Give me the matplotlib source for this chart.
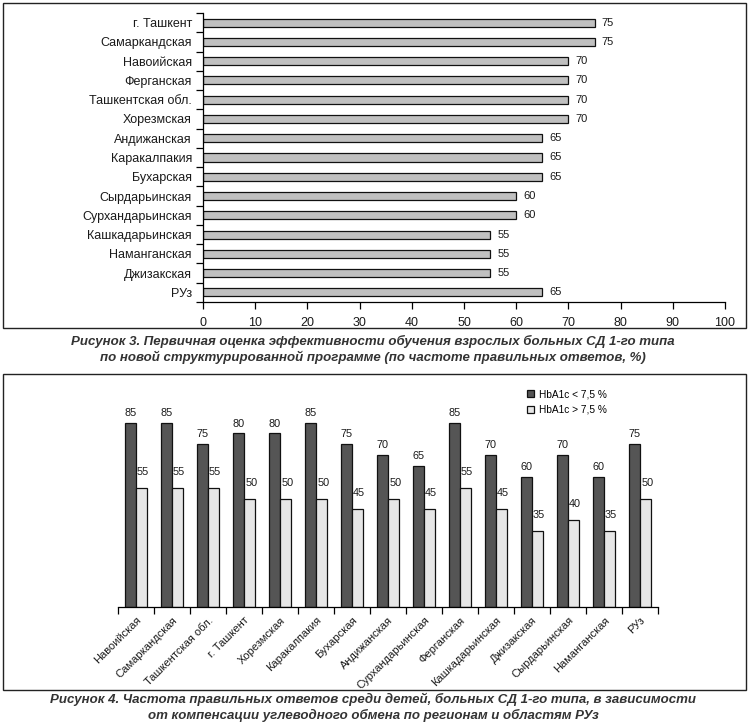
import numpy as np
import matplotlib
matplotlib.use("Agg")
import matplotlib.pyplot as plt
from matplotlib.patches import Rectangle

plt.rcParams['font.family'] = ['Liberation Sans', 'DejaVu Sans']

# ---- data: figure 3 (adults) ----
regions3 = ["г. Ташкент", "Самаркандская", "Навоийская", "Ферганская", "Ташкентская обл.",
            "Хорезмская", "Андижанская", "Каракалпакия", "Бухарская", "Сырдарьинская",
            "Сурхандарьинская", "Кашкадарьинская", "Наманганская", "Джизакская", "РУз"]
values3 = [75, 75, 70, 70, 70, 70, 65, 65, 65, 60, 60, 55, 55, 55, 65]
xticks3 = [0, 10, 20, 30, 40, 50, 60, 70, 80, 90, 100]

# ---- data: figure 4 (children) ----
regions4 = ["Навоийская", "Самаркандская", "Ташкентская обл.", "г. Ташкент", "Хорезмская",
            "Каракалпакия", "Бухарская", "Андижанская", "Сурхандарьинская", "Ферганская",
            "Кашкадарьинская", "Джизакская", "Сырдарьинская", "Наманганская", "РУз"]
hba_low = [85, 85, 75, 80, 80, 85, 75, 70, 65, 85, 70, 60, 70, 60, 75]
hba_high = [55, 55, 55, 50, 50, 50, 45, 50, 45, 55, 45, 35, 40, 35, 50]
series_names = ["HbA1c < 7,5 %", "HbA1c > 7,5 %"]

W, H = 751, 725
fig = plt.figure(figsize=(W/100, H/100), dpi=100, facecolor="white")

def px(x0, y0, x1, y1):
    # pixel box (top-left origin) -> figure fraction rect
    return [x0/W, 1 - y1/H, (x1-x0)/W, (y1-y0)/H]

# frames around both figures
for (x0, y0, x1, y1) in [(3, 3, 746, 328), (3, 374, 746, 690)]:
    fig.patches.append(Rectangle((x0/W, 1-y1/H), (x1-x0)/W, (y1-y0)/H,
                                 transform=fig.transFigure, fill=False,
                                 edgecolor="#222222", lw=1.0))

txt = "#1a1a1a"
cap = dict(ha="center", va="center", fontsize=9.5, fontweight="bold",
           fontstyle="italic", color="#333333")

# ---- figure 3: horizontal bars ----
ax1 = fig.add_axes(px(203, 13, 725, 302))
y = np.arange(len(regions3))
ax1.barh(y, values3, height=0.42, color="#c0c0c0", edgecolor="#111111", lw=0.9)
for yi, v in zip(y, values3):
    ax1.text(v + 1.4, yi, str(v), va="center", ha="left", fontsize=8, color=txt)
ax1.set_xlim(0, 100)
ax1.set_ylim(len(regions3) - 0.5, -0.5)
ax1.set_xticks(xticks3)
ax1.set_yticks(y)
ax1.set_yticklabels(regions3, fontsize=9, color=txt)
ax1.set_yticks(np.arange(-0.5, len(regions3)), minor=True)
ax1.tick_params(axis="y", which="major", length=0, pad=8)
ax1.tick_params(axis="y", which="minor", length=5, width=0.9, direction="out")
ax1.tick_params(axis="x", length=5, width=0.9, labelsize=9, labelcolor=txt, pad=6)
for s in ["top", "right"]:
    ax1.spines[s].set_visible(False)
for s in ["left", "bottom"]:
    ax1.spines[s].set_linewidth(0.9)

fig.text(373/W, 1 - 341/H,
         "Рисунок 3. Первичная оценка эффективности обучения взрослых больных СД 1-го типа", **cap)
fig.text(373/W, 1 - 357/H,
         "по новой структурированной программе (по частоте правильных ответов, %)", **cap)

# ---- figure 4: grouped vertical bars ----
ax2 = fig.add_axes(px(118, 390, 658, 607))
x = np.arange(len(regions4))
bw = 0.3
ax2.bar(x - bw/2, hba_low, width=bw, color="#555555", edgecolor="#111111", lw=0.9,
        label=series_names[0])
ax2.bar(x + bw/2, hba_high, width=bw, color="#e6e6e6", edgecolor="#111111", lw=0.9,
        label=series_names[1])
for xi, v in zip(x, hba_low):
    ax2.text(xi - bw/2, v + 2.2, str(v), ha="center", va="bottom", fontsize=7.8, color=txt)
for xi, v in zip(x, hba_high):
    ax2.text(xi + bw/2 + 0.05, v + 5, str(v), ha="center", va="bottom", fontsize=7.8, color=txt)
ax2.set_xlim(-0.5, len(regions4) - 0.5)
ax2.set_ylim(0, 100)
ax2.set_yticks([])
ax2.set_xticks(x)
ax2.set_xticklabels(regions4, rotation=45, ha="right", rotation_mode="anchor",
                    fontsize=8, color=txt)
ax2.set_xticks(np.arange(-0.5, len(regions4)), minor=True)
ax2.tick_params(axis="x", which="major", length=0, pad=6)
ax2.tick_params(axis="x", which="minor", length=5, width=0.9, direction="out")
for s in ["top", "right", "left"]:
    ax2.spines[s].set_visible(False)
ax2.spines["bottom"].set_linewidth(0.9)
ax2.legend(loc="upper left", bbox_to_anchor=(522/W, 1 - 384/H), bbox_transform=fig.transFigure,
           frameon=False, fontsize=7.3, handlelength=0.7, handleheight=0.7,
           handletextpad=0.5, labelspacing=0.55, borderpad=0)

fig.text(373/W, 1 - 699/H,
         "Рисунок 4. Частота правильных ответов среди детей, больных СД 1-го типа, в зависимости", **cap)
fig.text(373/W, 1 - 715/H,
         "от компенсации углеводного обмена по регионам и областям РУз", **cap)

fig.savefig("out.png", dpi=100, facecolor="white")
